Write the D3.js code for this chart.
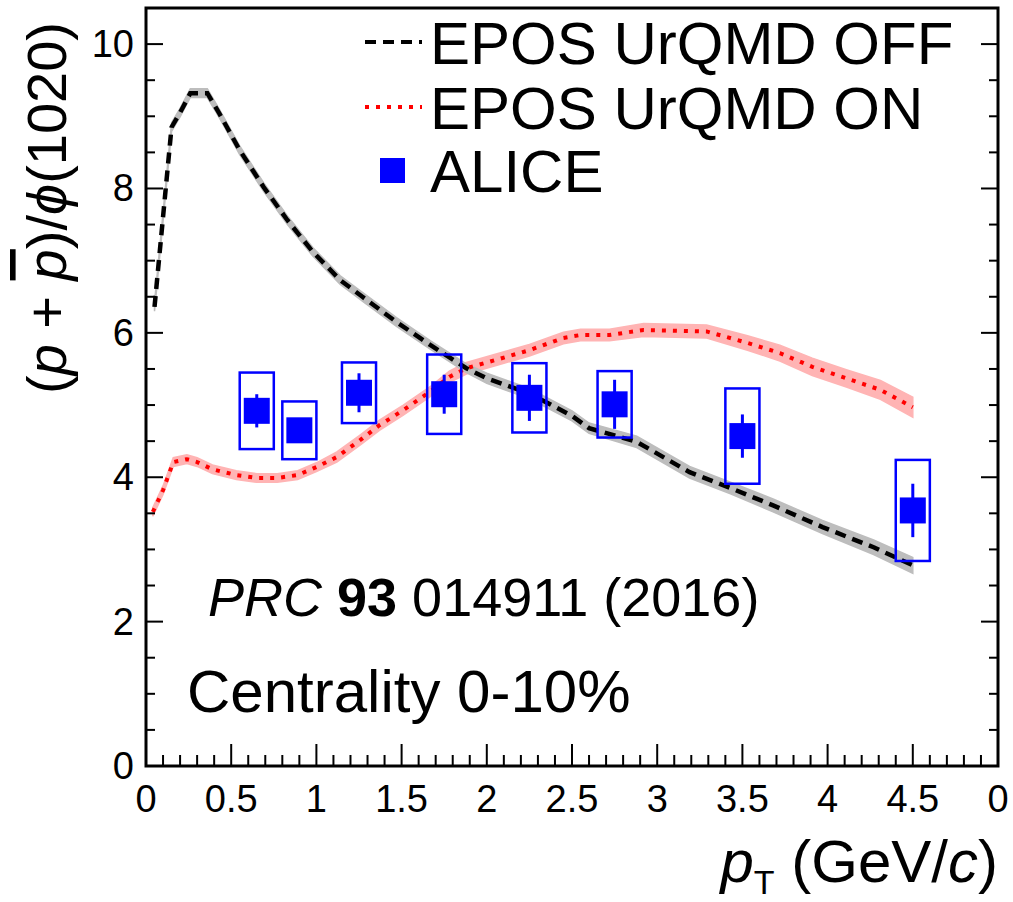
<!DOCTYPE html>
<html>
<head>
<meta charset="utf-8">
<script src="https://cdn.jsdelivr.net/npm/d3@7"></script>
<style>
  html, body { margin: 0; padding: 0; background: #fff; }
  svg { display: block; }
  text { font-family: "Liberation Sans", Arial, Helvetica, sans-serif; fill: #000; }
</style>
</head>
<body>
<svg id="chart" width="1013" height="902"></svg>
<script>
// ---------------- DATA ----------------
const offPt  = [0.05,0.15,0.20,0.26,0.36,0.43,0.55,0.69,0.83,0.98,1.14,1.27,1.47,1.67,1.88,2.00,2.25,2.50,2.60,2.88,3.19,3.43,3.68,3.97,4.27,4.50];
const offVal = [6.36,8.85,9.05,9.32,9.32,9.04,8.53,8.02,7.56,7.12,6.73,6.50,6.15,5.83,5.51,5.37,5.16,4.85,4.68,4.49,4.07,3.85,3.61,3.31,3.03,2.78];
const offErr = [0.06,0.06,0.06,0.06,0.06,0.06,0.06,0.06,0.06,0.06,0.06,0.06,0.06,0.06,0.06,0.07,0.07,0.07,0.07,0.08,0.08,0.08,0.09,0.09,0.10,0.11];

const onPt  = [0.04,0.10,0.16,0.24,0.30,0.39,0.53,0.65,0.77,0.89,1.00,1.12,1.26,1.37,1.51,1.67,1.78,1.88,2.06,2.25,2.45,2.55,2.72,2.92,3.29,3.53,3.72,3.91,4.11,4.31,4.50];
const onVal = [3.52,3.82,4.21,4.25,4.21,4.11,4.03,3.99,3.99,4.03,4.14,4.28,4.52,4.72,4.93,5.19,5.39,5.51,5.63,5.76,5.93,5.97,5.97,6.04,6.02,5.86,5.72,5.53,5.37,5.21,4.97];
const onErr = [0.06,0.06,0.06,0.06,0.06,0.06,0.06,0.06,0.06,0.06,0.06,0.07,0.07,0.07,0.07,0.07,0.08,0.08,0.08,0.08,0.08,0.08,0.08,0.09,0.09,0.10,0.11,0.12,0.12,0.13,0.14];

const alicePt   = [0.65,0.90,1.25,1.75,2.25,2.75,3.50,4.50];
const aliceVal  = [4.92,4.65,5.17,5.15,5.10,5.01,4.57,3.54];
const aliceStat = [0.23,0.10,0.27,0.27,0.32,0.34,0.30,0.37];
const aliceSys  = [0.53,0.40,0.42,0.55,0.48,0.46,0.66,0.70];
const aliceBoxHalf = [0.10,0.10,0.10,0.10,0.10,0.10,0.10,0.10];

const xMajorTicks = [0,0.5,1,1.5,2,2.5,3,3.5,4,4.5,5];
const xTickLabels = ["0","0.5","1","1.5","2","2.5","3","3.5","4","4.5","0"];
const yMajorTicks = [0,2,4,6,8,10];
const yTickLabels = ["0","2","4","6","8","10"];

const legendLabels = ["EPOS UrQMD OFF","EPOS UrQMD ON","ALICE"];

// ---------------- LAYOUT ----------------
const svg = d3.select("#chart");
const L = 146, R = 998, T = 8, B = 766;
const x = d3.scaleLinear().domain([0,5]).range([L,R]);
const y = d3.scaleLinear().domain([0,10.5]).range([B,T]);

const BLUE = "#0000ff";

const offData = offPt.map((p,i)=>({x:p, v:offVal[i], e:offErr[i]}));
const onData  = onPt.map((p,i)=>({x:p, v:onVal[i], e:onErr[i]}));

const area = d3.area().x(d=>x(d.x)).y0(d=>y(d.v-d.e)).y1(d=>y(d.v+d.e));
const line = d3.line().x(d=>x(d.x)).y(d=>y(d.v));

svg.append("path").attr("d", area(onData)).attr("fill","#ffb4b4").attr("stroke","#ffb4b4").attr("stroke-width",1.5);
svg.append("path").attr("d", area(offData)).attr("fill","#bdbdbd").attr("stroke","#bdbdbd").attr("stroke-width",1.5);

svg.append("path").attr("d", line(onData)).attr("fill","none")
  .attr("stroke","#ff0000").attr("stroke-width",4).attr("stroke-dasharray","4,7");
svg.append("path").attr("d", line(offData)).attr("fill","none")
  .attr("stroke","#000").attr("stroke-width",4.5).attr("stroke-dasharray","11,7");

// ALICE data
const alice = alicePt.map((p,i)=>({x:p, v:aliceVal[i], s:aliceStat[i], sy:aliceSys[i], h:aliceBoxHalf[i]}));
const g = svg.append("g");
g.selectAll("rect.sys").data(alice).join("rect")
  .attr("x", d=>x(d.x-d.h)).attr("width", d=>x(d.x+d.h)-x(d.x-d.h))
  .attr("y", d=>y(d.v+d.sy)).attr("height", d=>y(d.v-d.sy)-y(d.v+d.sy))
  .attr("fill","none").attr("stroke",BLUE).attr("stroke-width",2.5);
g.selectAll("line.stat").data(alice).join("line")
  .attr("x1", d=>x(d.x)).attr("x2", d=>x(d.x))
  .attr("y1", d=>y(d.v+d.s)).attr("y2", d=>y(d.v-d.s))
  .attr("stroke",BLUE).attr("stroke-width",3);
const M = 26;
g.selectAll("rect.mk").data(alice).join("rect")
  .attr("x", d=>x(d.x)-M/2).attr("y", d=>y(d.v)-M/2)
  .attr("width",M).attr("height",M).attr("fill",BLUE);

// ---------------- AXES ----------------
const ax = svg.append("g");
const xMinor = d3.range(0,51).map(i=>i/10);
ax.selectAll("line.xt").data(xMinor).join("line")
  .attr("x1",d=>x(d)).attr("x2",d=>x(d))
  .attr("y1",B).attr("y2",d=> (Math.round(d*10)%5===0) ? B-22 : B-11)
  .attr("stroke","#000").attr("stroke-width",2);
const yMinor = d3.range(0,22).map(i=>i/2);
ax.selectAll("line.ytl").data(yMinor).join("line")
  .attr("y1",d=>y(d)).attr("y2",d=>y(d))
  .attr("x1",L).attr("x2",d=> (d%2===0) ? L+17 : L+9)
  .attr("stroke","#000").attr("stroke-width",2);
ax.selectAll("line.ytr").data(yMinor).join("line")
  .attr("y1",d=>y(d)).attr("y2",d=>y(d))
  .attr("x1",R).attr("x2",d=> (d%2===0) ? R-17 : R-9)
  .attr("stroke","#000").attr("stroke-width",2);

svg.append("rect").attr("x",L).attr("y",T).attr("width",R-L).attr("height",B-T)
  .attr("fill","none").attr("stroke","#000").attr("stroke-width",3);

// tick labels
ax.selectAll("text.xl").data(xMajorTicks).join("text")
  .attr("x",d=>x(d)).attr("y",B+46).attr("text-anchor","middle")
  .attr("font-size",38).text((d,i)=>xTickLabels[i]);
ax.selectAll("text.yl").data(yMajorTicks).join("text")
  .attr("x",L-12).attr("y",d=>y(d)+13).attr("text-anchor","end")
  .attr("font-size",38).text((d,i)=>yTickLabels[i]);

// axis titles
const xt = svg.append("text").attr("x",998).attr("y",882).attr("text-anchor","end").attr("font-size",60);
xt.append("tspan").attr("font-style","italic").text("p");
xt.append("tspan").attr("font-size",34).attr("dy",12).text("T");
xt.append("tspan").attr("dy",-12).text(" (GeV/");
xt.append("tspan").attr("font-style","italic").text("c");
xt.append("tspan").text(")");

const yt = svg.append("text").attr("transform","translate(66,208) rotate(-90)")
  .attr("text-anchor","middle").attr("font-size",56);
yt.append("tspan").text("(");
yt.append("tspan").attr("font-style","italic").text("p");
yt.append("tspan").text(" + ");
yt.append("tspan").attr("font-style","italic").style("text-decoration","overline").text("p");
yt.append("tspan").text(")/");
yt.append("tspan").attr("font-style","italic").text("ϕ");
yt.append("tspan").text("(1020)");

// legend
svg.append("line").attr("x1",365).attr("x2",422).attr("y1",42).attr("y2",42)
  .attr("stroke","#000").attr("stroke-width",4).attr("stroke-dasharray","11,7");
svg.append("line").attr("x1",365).attr("x2",422).attr("y1",107).attr("y2",107)
  .attr("stroke","#ff0000").attr("stroke-width",4).attr("stroke-dasharray","4,7");
svg.append("rect").attr("x",380).attr("y",158).attr("width",25).attr("height",25).attr("fill",BLUE);
const legY = [64,129,192];
svg.selectAll("text.leg").data(legendLabels).join("text")
  .attr("x",430).attr("y",(d,i)=>legY[i]).attr("font-size",60).text(d=>d);

// annotations
const prc = svg.append("text").attr("x",208).attr("y",616).attr("font-size",54);
prc.append("tspan").attr("font-style","italic").text("PRC ");
prc.append("tspan").attr("font-weight","bold").text("93");
prc.append("tspan").text(" 014911 (2016)");
svg.append("text").attr("x",187).attr("y",712).attr("font-size",60).text("Centrality 0-10%");
</script>
</body>
</html>
